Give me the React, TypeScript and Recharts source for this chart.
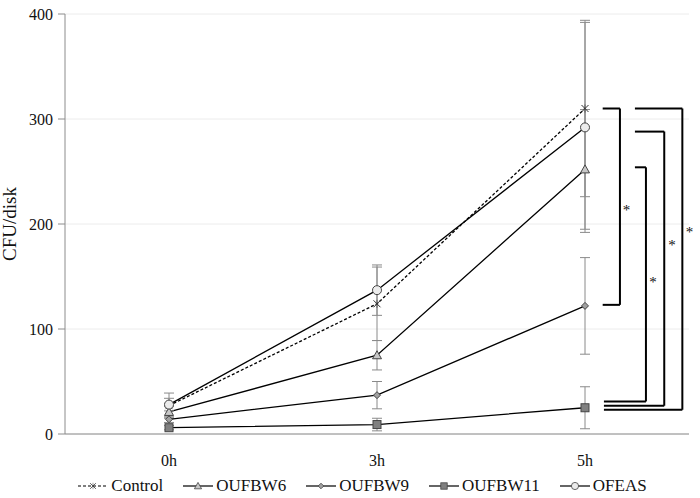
import React from 'react';
import {
  LineChart,
  Line,
  XAxis,
  YAxis,
  CartesianGrid,
  ErrorBar,
  Legend,
  ReferenceLine,
  ReferenceDot,
} from 'recharts';

const TIMES = ['0h', '3h', '5h'];

const CONTROL = [27, 124, 310];
const CONTROL_ERR = [12, 35, 84];
const OUFBW6 = [21, 75, 252];
const OUFBW6_ERR = [5, 14, 57];
const OUFBW9 = [14, 37, 122];
const OUFBW9_ERR = [3, 13, 46];
const OUFBW11 = [6, 9, 25];
const OUFBW11_ERR = [2, 6, 20];
const OFEAS = [28, 137, 292];
const OFEAS_ERR = [6, 24, 100];

const Y_TICKS = [0, 100, 200, 300, 400];

// significance brackets at 5h: top value, bottom value, star label position
const BRACKET_TOP = [310, 254, 288, 310];
const BRACKET_BOTTOM = [123, 31, 27, 23];
const STAR_Y = [215, 147, 182, 194];

const FONT = 'Liberation Serif, Tinos, Times New Roman, DejaVu Serif, serif';
const AXIS_GREY = '#8c8c8c';
const ERR_GREY = '#8a8a8a';

const data = TIMES.map((_, i) => ({
  t: i,
  control: CONTROL[i],
  controlErr: CONTROL_ERR[i],
  w6: OUFBW6[i],
  w6Err: OUFBW6_ERR[i],
  w9: OUFBW9[i],
  w9Err: OUFBW9_ERR[i],
  w11: OUFBW11[i],
  w11Err: OUFBW11_ERR[i],
  ofeas: OFEAS[i],
  ofeasErr: OFEAS_ERR[i],
}));

// bracket x positions in axis units (category 5h sits at 2)
const BRACKET_X = [
  { inner: 2.085, top0: 2.085, vert: 2.168, star: 2.2 },
  { inner: 2.091, top0: 2.24, vert: 2.293, star: 2.327 },
  { inner: 2.091, top0: 2.24, vert: 2.381, star: 2.418 },
  { inner: 2.091, top0: 2.24, vert: 2.468, star: 2.502 },
];

const Marker = ({ kind, cx, cy }: { kind: string; cx: number; cy: number }) => {
  if (cx == null || cy == null) return null;
  switch (kind) {
    case 'x':
      return (
        <g stroke="#333" strokeWidth={1}>
          <line x1={cx - 3.5} y1={cy - 3.5} x2={cx + 3.5} y2={cy + 3.5} />
          <line x1={cx - 3.5} y1={cy + 3.5} x2={cx + 3.5} y2={cy - 3.5} />
          <line x1={cx} y1={cy - 4} x2={cx} y2={cy + 4} strokeWidth={0.6} />
        </g>
      );
    case 'tri':
      return (
        <path
          d={`M${cx},${cy - 4.5} L${cx + 4.5},${cy + 3.5} L${cx - 4.5},${cy + 3.5} Z`}
          fill="#c8c8c8"
          stroke="#444"
          strokeWidth={1}
        />
      );
    case 'dia':
      return (
        <path
          d={`M${cx},${cy - 3.5} L${cx + 3.5},${cy} L${cx},${cy + 3.5} L${cx - 3.5},${cy} Z`}
          fill="#a0a0a0"
          stroke="#444"
          strokeWidth={1}
        />
      );
    case 'sq':
      return <rect x={cx - 4} y={cy - 4} width={8} height={8} fill="#808080" stroke="#444" strokeWidth={1} />;
    default:
      return <circle cx={cx} cy={cy} r={4.5} fill="#ececec" stroke="#444" strokeWidth={1} />;
  }
};

const SERIES = [
  { key: 'control', name: 'Control', marker: 'x', dash: '3 2' },
  { key: 'w6', name: 'OUFBW6', marker: 'tri', dash: undefined },
  { key: 'w9', name: 'OUFBW9', marker: 'dia', dash: undefined },
  { key: 'w11', name: 'OUFBW11', marker: 'sq', dash: undefined },
  { key: 'ofeas', name: 'OFEAS', marker: 'circ', dash: undefined },
];

const LegendContent = () => (
  <div
    style={{
      display: 'flex',
      justifyContent: 'center',
      alignItems: 'center',
      gap: 19,
      height: 24,
      fontFamily: FONT,
      fontSize: 17,
      color: '#111',
      paddingLeft: 35,
    }}
  >
    {SERIES.map((s) => (
      <div key={s.key} style={{ display: 'flex', alignItems: 'center' }}>
        <svg width={32} height={12} style={{ marginRight: 2 }}>
          <line
            x1={1}
            y1={6}
            x2={31}
            y2={6}
            stroke="#000"
            strokeWidth={1.2}
            strokeDasharray={s.dash}
          />
          <g transform="translate(16,6) scale(0.8) translate(-16,-6)">
            <Marker kind={s.marker} cx={16} cy={6} />
          </g>
        </svg>
        <span>{s.name}</span>
      </div>
    ))}
  </div>
);

export default function App() {
  return (
    <div style={{ position: 'absolute', left: 0, top: 0, width: 700, height: 498, background: '#fff' }}>
      <LineChart
        width={700}
        height={498}
        data={data}
        margin={{ top: 14, right: 11, left: 0, bottom: 0 }}
      >
        <CartesianGrid horizontal vertical={false} stroke="#ececec" />
        <XAxis
          dataKey="t"
          type="number"
          domain={[-0.5, 2.5]}
          ticks={[0, 1, 2]}
          tickFormatter={(v) => TIMES[v]}
          allowDataOverflow
          height={40}
          axisLine={{ stroke: AXIS_GREY }}
          tickLine={false}
          tickSize={0}
          tickMargin={21}
          tick={{ fontFamily: FONT, fontSize: 16, fill: '#111' }}
        />
        <YAxis
          domain={[0, 400]}
          ticks={Y_TICKS}
          width={65}
          axisLine={{ stroke: AXIS_GREY }}
          tickLine={{ stroke: AXIS_GREY }}
          tickSize={7}
          tickMargin={5}
          tick={{ fontFamily: FONT, fontSize: 16, fill: '#111' }}
          label={{
            value: 'CFU/disk',
            angle: -90,
            position: 'insideLeft',
            offset: 0,
            dx: 9,
            style: { fontFamily: FONT, fontSize: 19, fill: '#111', textAnchor: 'middle' },
          }}
        />
        <Legend verticalAlign="bottom" height={24} content={<LegendContent />} />

        {SERIES.map((s) => (
          <Line
            key={s.key}
            dataKey={s.key}
            name={s.name}
            stroke="#000"
            strokeWidth={1.3}
            strokeDasharray={s.dash}
            isAnimationActive={false}
            dot={(p: any) => <Marker key={`${s.key}-${p.index}`} kind={s.marker} cx={p.cx} cy={p.cy} />}
            activeDot={false}
          >
            <ErrorBar dataKey={`${s.key}Err`} direction="y" width={5} stroke={ERR_GREY} strokeWidth={1} />
          </Line>
        ))}

        {BRACKET_X.map((b, i) => (
          <React.Fragment key={`br-${i}`}>
            <ReferenceLine
              segment={[{ x: b.top0, y: BRACKET_TOP[i] }, { x: b.vert, y: BRACKET_TOP[i] }]}
              stroke="#000"
              strokeWidth={2}
              ifOverflow="visible"
            />
            <ReferenceLine
              segment={[{ x: b.vert, y: BRACKET_TOP[i] }, { x: b.vert, y: BRACKET_BOTTOM[i] }]}
              stroke="#000"
              strokeWidth={2}
              ifOverflow="visible"
            />
            <ReferenceLine
              segment={[{ x: b.inner, y: BRACKET_BOTTOM[i] }, { x: b.vert, y: BRACKET_BOTTOM[i] }]}
              stroke="#000"
              strokeWidth={2}
              ifOverflow="visible"
            />
            <ReferenceDot
              x={b.star}
              y={STAR_Y[i]}
              r={0}
              ifOverflow="visible"
              shape={(p: any) => (
                <text
                  x={p.cx}
                  y={p.cy + 7}
                  textAnchor="middle"
                  fontFamily={FONT}
                  fontSize={15}
                  fill="#111"
                >
                  *
                </text>
              )}
            />
          </React.Fragment>
        ))}
      </LineChart>
    </div>
  );
}
